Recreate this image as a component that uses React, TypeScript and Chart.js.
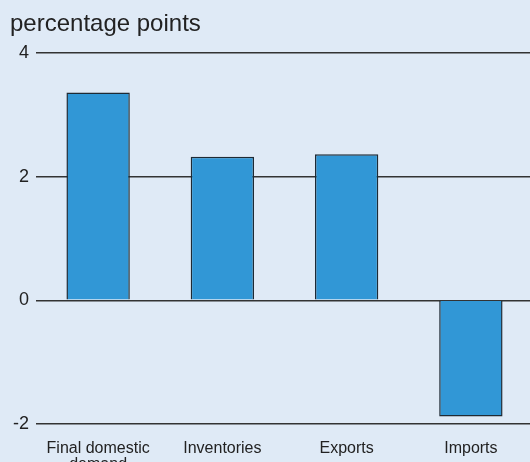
import React, { useEffect, useRef } from "react";
import { Chart, registerables } from "chart.js";

Chart.register(...registerables);

const categories: (string | string[])[] = [["Final domestic", "demand"], "Inventories", "Exports", "Imports"];
const values: number[] = [3.36, 2.32, 2.36, -1.88];
const yTitle = "percentage points";
const yMin = -2;
const yMax = 4;
const yStep = 2;

const FONT = "'Liberation Sans', Arial, Helvetica, sans-serif";

export default function App() {
  const ref = useRef<HTMLCanvasElement | null>(null);

  useEffect(() => {
    if (!ref.current) return;
    const chart = new Chart(ref.current, {
      type: "bar",
      data: {
        labels: categories,
        datasets: [
          {
            data: values,
            backgroundColor: "#3197d6",
            borderColor: "#1e2a34",
            borderWidth: 1.5,
            categoryPercentage: 1,
            barPercentage: 0.51,
          },
        ],
      },
      options: {
        responsive: false,
        animation: false,
        layout: { padding: { left: 10, right: 0, top: 0, bottom: 0 } },
        plugins: {
          legend: { display: false },
          tooltip: { enabled: false },
          title: {
            display: true,
            text: yTitle,
            align: "start",
            color: "#222222",
            font: { family: FONT, size: 24, weight: "normal", lineHeight: 1.2 },
            padding: { top: 10, bottom: 14 },
          },
        },
        scales: {
          x: {
            grid: { display: false },
            border: { display: false },
            ticks: {
              color: "#222222",
              font: { family: FONT, size: 16, lineHeight: 1.0 },
              padding: 9,
              maxRotation: 0,
              autoSkip: false,
            },
            afterFit: (scale: any) => {
              scale.height = 38;
            },
          },
          y: {
            min: yMin,
            max: yMax,
            border: { display: false },
            grid: { color: "#333333", lineWidth: 1.5, drawTicks: false },
            ticks: {
              stepSize: yStep,
              color: "#222222",
              font: { family: FONT, size: 18 },
              padding: 7,
            },
            afterFit: (scale: any) => {
              scale.width = 26;
            },
          },
        },
      },
    });
    return () => chart.destroy();
  }, []);

  return (
    <div
      style={{
        position: "fixed",
        left: 0,
        top: 0,
        width: 530,
        height: 462,
        background: "#dfeaf6",
        overflow: "hidden",
      }}
    >
      <canvas ref={ref} width={533} height={462} style={{ display: "block", width: 533, height: 462 }} />
    </div>
  );
}
